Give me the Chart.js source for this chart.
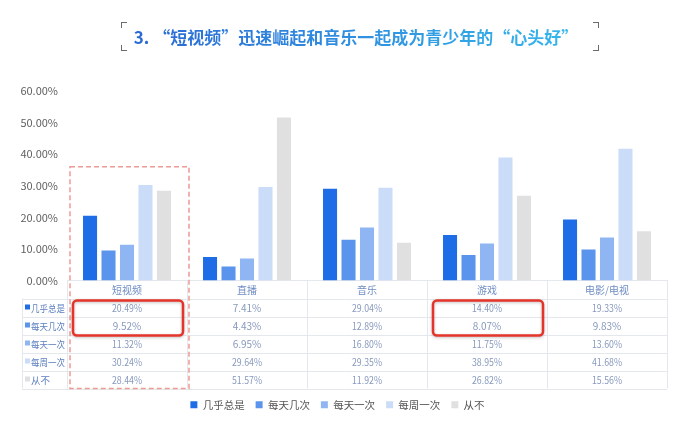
<!DOCTYPE html>
<html lang="zh">
<head>
<meta charset="utf-8">
<title>短视频与音乐</title>
<script src="https://cdn.jsdelivr.net/npm/chart.js@4.4.1/dist/chart.umd.min.js"></script>
<style>
    html, body { margin: 0; padding: 0; background: #fff; }
    #wrap { position: relative; width: 692px; height: 427px; overflow: hidden; }
    #chart { position: absolute; left: 0; top: 0; }
    #title {
        position: absolute; left: 0; top: 26px; width: 712px; text-align: center;
        font: bold 17px "Noto Sans CJK SC", sans-serif; line-height: 22px;
    }
    #title span {
        background: linear-gradient(90deg, #2a68d4, #35b8ec);
        -webkit-background-clip: text; background-clip: text; color: transparent;
    }
    .corner { position: absolute; width: 5px; height: 5px; border-color: #6b6b6b; border-style: solid; border-width: 0; }
    .tl { left: 121px; top: 22px; border-left-width: 1.5px; border-top-width: 1.5px; }
    .bl { left: 121px; top: 45px; border-left-width: 1.5px; border-bottom-width: 1.5px; }
    .tr { left: 593px; top: 22px; border-right-width: 1.5px; border-top-width: 1.5px; }
    .br { left: 593px; top: 45px; border-right-width: 1.5px; border-bottom-width: 1.5px; }
</style>
</head>
<body>
<div id="wrap">
    <canvas id="chart" width="692" height="427"></canvas>
    <div class="corner tl"></div><div class="corner bl"></div>
    <div class="corner tr"></div><div class="corner br"></div>
    <div id="title"><span>3. “短视频”迅速崛起和音乐一起成为青少年的“心头好”</span></div>
</div>
<script>
// categories and series (values in %)
const categories = ['短视频', '直播', '音乐', '游戏', '电影/电视'];
const seriesNames = ['几乎总是', '每天几次', '每天一次', '每周一次', '从不'];
const almostAlways = [20.49, 7.41, 29.04, 14.40, 19.33];
const severalDaily = [9.52, 4.43, 12.89, 8.07, 9.83];
const oncePerDay = [11.32, 6.95, 16.80, 11.75, 13.60];
const oncePerWeek = [30.24, 29.64, 29.35, 38.95, 41.68];
const never = [28.44, 51.57, 11.92, 26.82, 15.56];
const yTicks = [0, 10, 20, 30, 40, 50, 60];

const seriesValues = [almostAlways, severalDaily, oncePerDay, oncePerWeek, never];
const seriesColors = ['#1f6de6', '#5b94ec', '#8fb6f2', '#cadcf7', '#e0e0e0'];

// highlighted cells: [categoryIndex, firstRow, lastRow]
const highlights = [[0, 0, 1], [3, 0, 1]];

const ROW_H = 18;
const TABLE_LEFT = 22;
const FONT = '"Noto Sans CJK SC", sans-serif';

/**
 * Data table under the bars, the dashed focus box and the red highlight boxes
 */
const tablePlugin = {
    id: 'dataTable',
    afterDraw(chart) {
        const { ctx, chartArea, scales: { x, y } } = chart;
        const colW = x.getPixelForValue(1) - x.getPixelForValue(0);
        const top = chartArea.bottom;
        const bottom = top + ROW_H * (seriesNames.length + 1);
        const right = chartArea.right;

        ctx.save();
        ctx.strokeStyle = '#e4e7ec';
        ctx.lineWidth = 1;
        ctx.beginPath();
        for (let i = 1; i <= seriesNames.length + 1; i++) {
            const yy = Math.round(top + ROW_H * i) + 0.5;
            ctx.moveTo(TABLE_LEFT, yy);
            ctx.lineTo(right, yy);
        }
        ctx.moveTo(TABLE_LEFT + 0.5, top + ROW_H);
        ctx.lineTo(TABLE_LEFT + 0.5, bottom);
        for (let i = 0; i <= categories.length; i++) {
            const xx = Math.round(x.getPixelForValue(i) - colW / 2) + 0.5;
            ctx.moveTo(xx, top);
            ctx.lineTo(xx, bottom);
        }
        ctx.stroke();

        ctx.textAlign = 'center';
        ctx.textBaseline = 'middle';
        ctx.font = '10px ' + FONT;
        ctx.fillStyle = '#6f8cc2';
        categories.forEach((c, i) => ctx.fillText(c, x.getPixelForValue(i), top + ROW_H / 2 + 1));

        ctx.fillStyle = '#8799bd';
        seriesValues.forEach((vals, r) => {
            const yy = top + ROW_H * (r + 1.5) + 1;
            vals.forEach((v, i) => ctx.fillText(v.toFixed(2) + '%', x.getPixelForValue(i), yy, 30));
        });

        ctx.textAlign = 'left';
        ctx.font = '9.5px ' + FONT;
        const labelRoom = chartArea.left - TABLE_LEFT - 11;
        seriesNames.forEach((name, r) => {
            const yy = top + ROW_H * (r + 1.5);
            ctx.fillStyle = seriesColors[r];
            ctx.fillRect(TABLE_LEFT + 3, yy - 3, 5, 5);
            ctx.fillStyle = '#5d7fc0';
            ctx.fillText(name, TABLE_LEFT + 9, yy + 1, labelRoom);
        });

        // dashed focus box around the first category
        const boxL = x.getPixelForValue(0) - colW / 2 + 3;
        const boxT = y.getPixelForValue(36);
        ctx.strokeStyle = '#ee9a95';
        ctx.lineWidth = 1.5;
        ctx.setLineDash([5, 3]);
        ctx.strokeRect(boxL, boxT, colW - 1, bottom - boxT);
        ctx.setLineDash([]);

        // red highlight boxes
        ctx.strokeStyle = '#e5352b';
        ctx.lineWidth = 2.5;
        ctx.shadowColor = 'rgba(0,0,0,0.25)';
        ctx.shadowBlur = 3;
        ctx.shadowOffsetY = 1;
        highlights.forEach(([ci, r0, r1]) => {
            const l = x.getPixelForValue(ci) - colW / 2 + 6;
            const t = top + ROW_H * (r0 + 1) + 2;
            const h = ROW_H * (r1 - r0 + 1) - 1;
            ctx.beginPath();
            ctx.roundRect(l, t, colW - 10, h, 4);
            ctx.stroke();
        });
        ctx.restore();
    }
};

new Chart(document.getElementById('chart'), {
    type: 'bar',
    data: {
        labels: categories,
        datasets: seriesNames.map((name, i) => ({
            label: name,
            data: seriesValues[i],
            backgroundColor: seriesColors[i],
            borderWidth: 0,
            categoryPercentage: 0.77,
            barPercentage: 0.76
        }))
    },
    options: {
        responsive: false,
        animation: false,
        layout: { padding: { left: 8, right: 25, top: 91, bottom: 7 } },
        scales: {
            x: {
                grid: { display: false },
                border: { color: '#e4e7ec' },
                ticks: { display: false },
                afterFit(scale) { scale.height = ROW_H * (seriesNames.length + 1); }
            },
            y: {
                min: yTicks[0],
                max: yTicks[yTicks.length - 1],
                afterBuildTicks(scale) { scale.ticks = yTicks.map(v => ({ value: v })); },
                afterFit(scale) { scale.width = 59; },
                grid: { display: false, drawTicks: false },
                border: { display: false },
                ticks: {
                    padding: 9,
                    color: '#606060',
                    font: { size: 11, family: FONT },
                    callback: v => v.toFixed(2) + '%'
                }
            }
        },
        plugins: {
            legend: {
                position: 'bottom',
                labels: {
                    boxWidth: 7,
                    boxHeight: 7,
                    padding: 11,
                    color: '#555',
                    font: { size: 10.5, family: FONT }
                }
            },
            tooltip: { enabled: false }
        }
    },
    plugins: [tablePlugin]
});
</script>
</body>
</html>
